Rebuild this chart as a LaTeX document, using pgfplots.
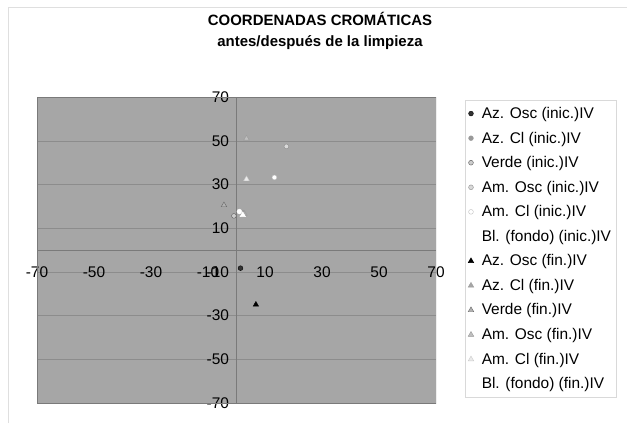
\documentclass[border=0pt]{standalone}
\usepackage{fontspec}
\setmainfont{Liberation Sans}
\usepackage{pgfplots}
\pgfplotsset{compat=1.18}
\definecolor{plotbg}{HTML}{A6A6A6}
\definecolor{gridc}{HTML}{8C8C8C}
\definecolor{axc}{HTML}{7A7A7A}
\begin{document}
\begin{tikzpicture}[x=1bp,y=1bp]
\useasboundingbox (0,0) rectangle (627,423);
\draw[gray!25] (8,0) -- (8,416) -- (627,416);
\node[font=\bfseries\fontsize{15}{21}\selectfont, align=center] at (320,392.5)
  {COORDENADAS CROMÁTICAS\\antes/después de la limpieza};
\begin{axis}[
  at={(37bp,20bp)}, anchor=south west,
  width=399bp, height=306bp, scale only axis,
  xmin=-70, xmax=70, ymin=-70, ymax=70,
  axis lines=middle,
  axis line style={-, axc},
  xtick={-70,-50,...,70}, ytick={-70,-50,...,70},
  major tick length=0pt,
  ymajorgrids, grid style={gridc},
  axis background/.style={fill=plotbg},
  ticklabel style={font=\fontsize{15.5}{17}\selectfont},
  /pgf/number format/assume math mode=true,
  xticklabel style={yshift=-13bp},
  yticklabel style={xshift=-4bp},
  legend style={at={(1.0727,0.990)}, anchor=north west, draw=gray!30,
    font=\fontsize{15.5}{17}\selectfont, row sep=7.9bp, inner sep=3bp,
    inner ysep=5bp,
    /tikz/every odd column/.append style={column sep=6bp},
    /tikz/every even column/.append style={column sep=14bp}},
  legend cell align=left,
]
\addplot[only marks, mark=*, mark size=2.4bp, draw=black, fill=black!80] coordinates {(1.4,-8.3)};
\addlegendentry{Az. Osc (inic.)IV}
\addplot[only marks, mark=*, mark size=2.4bp, draw=black!40, fill=black!40] coordinates {(2.0,17.2)};
\addlegendentry{Az. Cl (inic.)IV}
\addplot[only marks, mark=*, mark size=2.4bp, draw=black!65, fill=black!20] coordinates {(-0.9,15.6)};
\addlegendentry{Verde (inic.)IV}
\addplot[only marks, mark=*, mark size=2.4bp, draw=black!45, fill=black!15] coordinates {(17.5,47.4)};
\addlegendentry{Am. Osc (inic.)IV}
\addplot[only marks, mark=*, mark size=2.4bp, draw=black!25, fill=white] coordinates {(13.3,33.2)};
\addlegendentry{Am. Cl (inic.)IV}
\addplot[only marks, mark=*, mark size=2.4bp, draw=white, fill=white] coordinates {(1.0,17.6)};
\addlegendentry{Bl. (fondo) (inic.)IV}
\addplot[only marks, mark=triangle*, mark size=3.2bp, draw=black, fill=black] coordinates {(6.8,-25.0)};
\addlegendentry{Az. Osc (fin.)IV}
\addplot[only marks, mark=triangle*, mark size=3.2bp, draw=black!40, fill=black!35] coordinates {(2.8,16.6)};
\addlegendentry{Az. Cl (fin.)IV}
\addplot[only marks, mark=triangle*, mark size=3.2bp, draw=black!60, fill=black!30] coordinates {(-4.4,20.5)};
\addlegendentry{Verde (fin.)IV}
\addplot[only marks, mark=triangle*, mark size=3.2bp, draw=black!40, fill=black!25] coordinates {(3.5,51.0)};
\addlegendentry{Am. Osc (fin.)IV}
\addplot[only marks, mark=triangle*, mark size=3.2bp, draw=black!20, fill=black!8] coordinates {(3.5,32.4)};
\addlegendentry{Am. Cl (fin.)IV}
\addplot[only marks, mark=triangle*, mark size=3.2bp, draw=white, fill=white] coordinates {(2.2,16.0)};
\addlegendentry{Bl. (fondo) (fin.)IV}
\draw[axc] (rel axis cs:0,0) rectangle (rel axis cs:1,1);
\end{axis}
\end{tikzpicture}
\end{document}
